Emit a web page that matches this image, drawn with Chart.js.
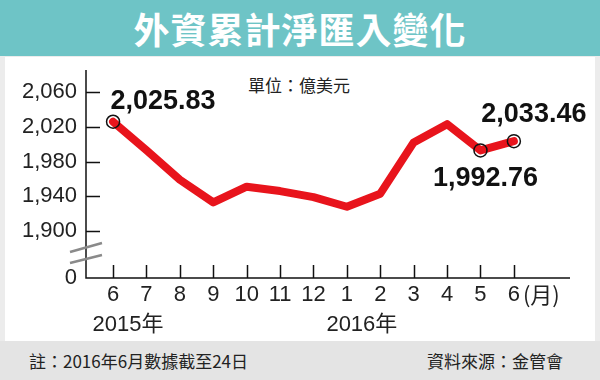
<!DOCTYPE html>
<html>
<head>
<meta charset="utf-8">
<script src="https://cdn.jsdelivr.net/npm/chart.js@4/dist/chart.umd.min.js"></script>
<style>
    body { margin: 0; width: 600px; height: 380px; position: relative; overflow: hidden; background: #ececec; font-family: "Noto Sans CJK TC", sans-serif; }
    .title { position: absolute; left: 0; top: 0; width: 600px; height: 56px; background: #6ec4c6; color: #fff; font-size: 36px; font-weight: 700; line-height: 56px; text-align: center; letter-spacing: 1px; }
    .panel { position: absolute; left: 5px; top: 57px; width: 590px; height: 284px; background: #fff; }
    .footer { position: absolute; left: 0; top: 341px; width: 600px; height: 39px; background: #e4e4e4; }
    .note { position: absolute; top: 349px; font-size: 17px; line-height: 24px; color: #222; }
    .unit { position: absolute; left: 248px; top: 73px; font-size: 17px; line-height: 24px; color: #222; }
    #chart { position: absolute; left: 0; top: 0; }
</style>
</head>
<body>
<div class="title">外資累計淨匯入變化</div>
<div class="panel"></div>
<div class="footer"></div>
<div class="note" style="left: 29px;">註：2016年6月數據截至24日</div>
<div class="note" style="right: 37px;">資料來源：金管會</div>
<div class="unit">單位：億美元</div>
<canvas id="chart" width="600" height="380"></canvas>
<script>
// Data
const months = ['6', '7', '8', '9', '10', '11', '12', '1', '2', '3', '4', '5', '6'];
const values = [2025.83, 1993, 1959, 1933, 1951, 1946, 1939, 1928, 1943, 2002, 2023, 1992.76, 2003.4];
const pointLabels = ['2,025.83', '', '', '', '', '', '', '', '', '', '', '1,992.76', '2,033.46'];
const years = ['2015年', '2016年'];
const yearIndex = [0, 7];
const yTicks = [1900, 1940, 1980, 2020, 2060];
const yMin = 1846; // shown as 0 (broken axis)
const yMax = 2085.3;

const red = '#e8141c';
const numFont = '"Liberation Sans", Arial, sans-serif';

// Axis lines, inside ticks, break marks and extra texts
const decorPlugin = {
    id: 'decor',
    beforeDatasetsDraw(chart) {
        const c = chart.ctx;
        const xs = chart.scales.x;
        const ys = chart.scales.y;
        const area = chart.chartArea;
        c.save();
        c.strokeStyle = '#111';
        c.lineWidth = 1.5;
        c.beginPath();
        c.moveTo(area.left, area.top);
        c.lineTo(area.left, area.bottom);
        c.lineTo(area.right, area.bottom);
        yTicks.forEach(v => {
            const py = Math.round(ys.getPixelForValue(v)) + 0.5;
            c.moveTo(area.left, py);
            c.lineTo(area.left + 14, py);
        });
        months.forEach((m, i) => {
            const px = Math.round(xs.getPixelForValue(i)) + 0.5;
            c.moveTo(px, area.bottom);
            c.lineTo(px, area.bottom - 13);
        });
        c.stroke();

        // broken axis marks
        c.strokeStyle = '#8a8a8a';
        c.lineWidth = 2.5;
        c.beginPath();
        c.moveTo(area.left - 16, area.bottom - 26);
        c.lineTo(area.left + 16, area.bottom - 35);
        c.moveTo(area.left - 16, area.bottom - 15);
        c.lineTo(area.left + 16, area.bottom - 23);
        c.stroke();

        // (月) and year labels
        c.fillStyle = '#222';
        c.textBaseline = 'middle';
        c.textAlign = 'left';
        c.font = '22px "Noto Sans CJK TC", sans-serif';
        c.fillText('(月)', xs.getPixelForValue(months.length - 1) + 9, area.bottom + 17);
        c.textAlign = 'center';
        c.font = '22px "Liberation Sans", "Noto Sans CJK TC", sans-serif';
        years.forEach((y, k) => {
            c.fillText(y, xs.getPixelForValue(yearIndex[k]) + 15, area.bottom + 47);
        });
        c.restore();
    },
    afterDatasetsDraw(chart) {
        const c = chart.ctx;
        const pts = chart.getDatasetMeta(0).data;
        const offsets = { 0: [50, -20], 11: [5, 28], 12: [20, -27] };
        c.save();
        c.fillStyle = '#111';
        c.font = 'bold 27px ' + numFont;
        c.textAlign = 'center';
        c.textBaseline = 'middle';
        pointLabels.forEach((t, i) => {
            if (!t) return;
            const o = offsets[i];
            c.fillText(t, pts[i].x + o[0], pts[i].y + o[1]);
        });
        c.restore();
    }
};

const chart = new Chart(document.getElementById('chart'), {
    type: 'line',
    data: {
        datasets: [{
            data: values.map((v, i) => ({ x: i, y: v })),
            borderColor: red,
            borderWidth: 8,
            borderJoinStyle: 'round',
            borderCapStyle: 'round',
            tension: 0,
            pointRadius: values.map((v, i) => pointLabels[i] ? 6.5 : 0),
            pointBorderColor: '#111',
            pointBorderWidth: 1.5,
            pointBackgroundColor: 'rgba(0,0,0,0)'
        }]
    },
    options: {
        responsive: false,
        animation: false,
        devicePixelRatio: 1,
        layout: { padding: { left: 0, right: 30, top: 70, bottom: 0 } },
        plugins: { legend: { display: false }, tooltip: { enabled: false } },
        scales: {
            x: {
                type: 'linear',
                min: -0.81,
                max: 13.68,
                afterFit: s => { s.height = 102; },
                afterBuildTicks: s => { s.ticks = months.map((m, i) => ({ value: i })); },
                grid: { display: false, drawTicks: false },
                border: { display: false },
                ticks: {
                    padding: 4,
                    color: '#222',
                    font: { family: numFont, size: 22 },
                    maxRotation: 0,
                    autoSkip: false,
                    callback: v => months[v]
                }
            },
            y: {
                min: yMin,
                max: yMax,
                afterFit: s => { s.width = 86; },
                afterBuildTicks: s => { s.ticks = [yMin].concat(yTicks).map(v => ({ value: v })); },
                grid: { display: false, drawTicks: false },
                border: { display: false },
                ticks: {
                    padding: 9,
                    color: '#222',
                    font: { family: numFont, size: 22 },
                    callback: v => v === yMin ? '0' : v.toLocaleString('en-US')
                }
            }
        }
    },
    plugins: [decorPlugin]
});
</script>
</body>
</html>
